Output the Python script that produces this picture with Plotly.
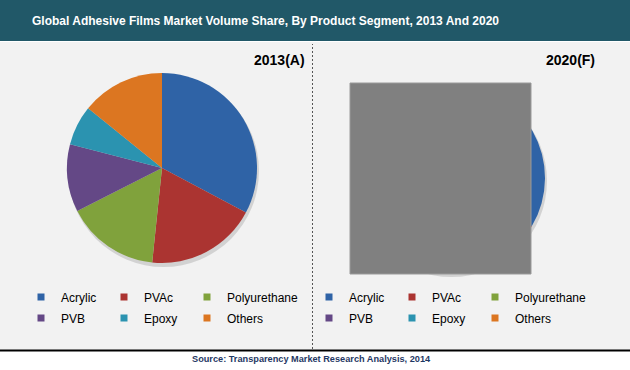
import plotly.graph_objects as go

W, H = 630, 370

categories = ["Acrylic", "PVAc", "Polyurethane", "PVB", "Epoxy", "Others"]
share_2013 = [32.8, 18.9, 15.9, 11.5, 6.8, 14.2]
share_2020 = [33.5, 18.5, 16.5, 11.0, 7.0, 13.5]
colors = ["#2f63a6", "#ab3431", "#80a23c", "#644886", "#2b93b0", "#dc7621"]
panel_titles = ["2013(A)", "2020(F)"]
title_text = "Global Adhesive Films Market Volume Share, By Product Segment, 2013 And 2020"
source_text = "Source: Transparency Market Research Analysis, 2014"

def px_x(x):
    return x / W

def px_y(y):
    return 1 - y / H

fig = go.Figure()

# pies: (cx, cy, r) in pixels
pie_geo = [(162, 168, 95), (450, 178, 95)]
for vals, (cx, cy, r), name in zip([share_2013, share_2020], pie_geo, panel_titles):
    fig.add_trace(go.Pie(
        labels=categories, values=vals, sort=False, direction="clockwise", rotation=0,
        marker=dict(colors=colors, line=dict(width=0)),
        textinfo="none", hoverinfo="label+percent", showlegend=False, name=name,
        domain=dict(x=[px_x(cx - r), px_x(cx + r)], y=[px_y(cy + r), px_y(cy - r)]),
    ))

# legend entries (two rows per panel)
legend_ids = [["legend", "legend2"], ["legend3", "legend4"]]
for p in range(2):
    for i, (cat, col) in enumerate(zip(categories, colors)):
        fig.add_trace(go.Scatter(
            x=[None], y=[None], mode="markers", name=cat,
            marker=dict(symbol="square", size=7, color=col),
            legend=legend_ids[p][i // 3], showlegend=True, hoverinfo="skip",
            legendwidth=80 if i % 3 == 2 else None,
        ))

leg_x = [36, 324]
leg_y = [297, 318]
legend_font = dict(family="Liberation Sans, Arial, sans-serif", size=12, color="#000000")
for p in range(2):
    for r in range(2):
        key = legend_ids[p][r]
        fig.update_layout(**{key: dict(
            x=px_x(leg_x[p]), y=px_y(leg_y[r]), xanchor="left", yanchor="middle",
            orientation="h", entrywidth=53, font=legend_font, bgcolor="rgba(0,0,0,0)",
            indentation=-15, itemwidth=30, traceorder="normal",
        )})

shapes = [
    # title bar
    dict(type="rect", xref="paper", yref="paper", x0=0, x1=1, y0=px_y(41), y1=1,
         fillcolor="#215868", line=dict(width=0), layer="below"),
    # panel background
    dict(type="rect", xref="paper", yref="paper", x0=0, x1=1, y0=px_y(350), y1=px_y(42),
         fillcolor="#f2f2f2", line=dict(width=0), layer="below"),
    # bottom black line
    dict(type="line", xref="paper", yref="paper", x0=0, x1=1, y0=px_y(350.5), y1=px_y(350.5),
         line=dict(color="#000000", width=2), layer="above"),
    # dashed separator
    dict(type="line", xref="paper", yref="paper", x0=px_x(312.5), x1=px_x(312.5), y0=px_y(349), y1=px_y(44),
         line=dict(color="#555555", width=1, dash="2px,2px"), layer="above"),
]
# pie shadows
for (cx, cy, r) in pie_geo:
    shapes.append(dict(type="circle", xref="paper", yref="paper",
                       x0=px_x(cx - r + 1), x1=px_x(cx + r + 2), y0=px_y(cy + r + 4), y1=px_y(cy - r + 2),
                       fillcolor="rgba(0,0,0,0.13)", line=dict(width=0), layer="below"))
# gray box over 2020 pie
shapes.append(dict(type="rect", xref="paper", yref="paper", x0=px_x(350), x1=px_x(531), y0=px_y(274), y1=px_y(83),
                   fillcolor="#808080", line=dict(color="#9a9a9a", width=1), layer="above"))

annotations = [
    dict(text="<b>" + title_text + "</b>", x=px_x(265), y=px_y(21), xref="paper", yref="paper",
         xanchor="center", yanchor="middle", showarrow=False,
         font=dict(family="Liberation Sans, Arial", size=12, color="#ffffff")),
    dict(text="<b>" + panel_titles[0] + "</b>", x=px_x(307), y=px_y(60), xref="paper", yref="paper",
         xanchor="right", yanchor="middle", showarrow=False,
         font=dict(family="Liberation Sans, Arial", size=14, color="#000000")),
    dict(text="<b>" + panel_titles[1] + "</b>", x=px_x(570), y=px_y(60), xref="paper", yref="paper",
         xanchor="center", yanchor="middle", showarrow=False,
         font=dict(family="Liberation Sans, Arial", size=14, color="#000000")),
    dict(text="<b>" + source_text + "</b>", x=px_x(311), y=px_y(359), xref="paper", yref="paper",
         xanchor="center", yanchor="middle", showarrow=False,
         font=dict(family="Liberation Sans, Arial", size=9.2, color="#1f3864")),
]

fig.update_layout(
    width=W, height=H, margin=dict(l=0, r=0, t=0, b=0, autoexpand=False),
    paper_bgcolor="#ffffff", plot_bgcolor="rgba(0,0,0,0)",
    xaxis=dict(visible=False, range=[0, 1]), yaxis=dict(visible=False, range=[0, 1]),
    shapes=shapes, annotations=annotations,
)

fig.write_html("out.html", config={"displayModeBar": False},
               post_script="document.body.style.margin='0';")
